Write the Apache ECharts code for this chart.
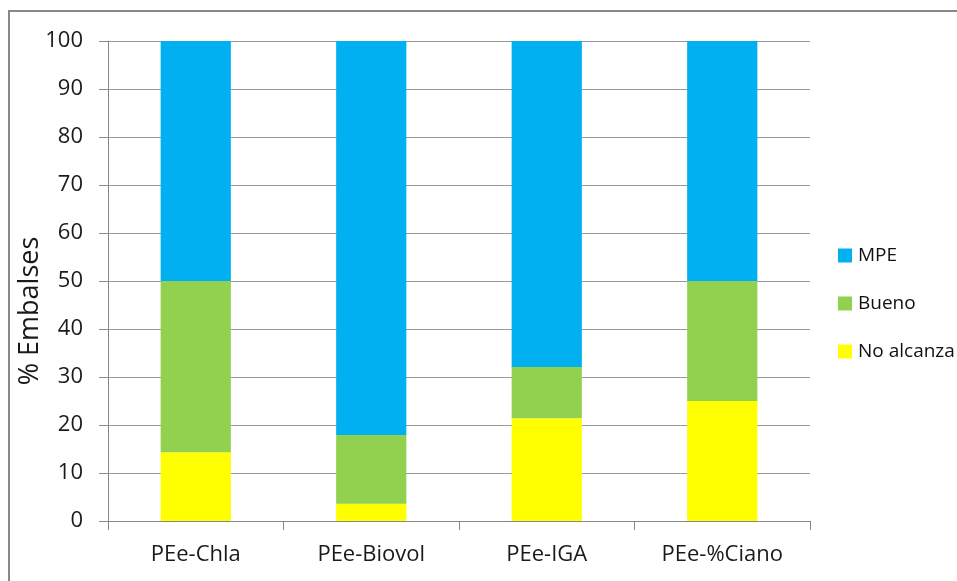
<!DOCTYPE html>
<html><head><meta charset="utf-8">
<script src="https://cdn.jsdelivr.net/npm/echarts@6/dist/echarts.min.js"></script>
<style>html,body{margin:0;padding:0;background:#fff}#c{width:957px;height:581px}</style>
</head><body><div id="c"></div>
<script>
const categories = ['PEe-Chla', 'PEe-Biovol', 'PEe-IGA', 'PEe-%Ciano'];
const noAlcanza = [14.3, 3.6, 21.4, 25.0];
const bueno = [35.7, 14.3, 10.7, 25.0];
const mpe = [50.0, 82.1, 67.9, 50.0];
const yTicks = [0, 10, 20, 30, 40, 50, 60, 70, 80, 90, 100];
const seriesNames = ['No alcanza', 'Bueno', 'MPE'];
const colors = ['#FFFF00', '#92D050', '#00B0F0'];

const font = 'Open Sans';
const chart = echarts.init(document.getElementById('c'));
const mk = (name, data, i) => ({
  name, type: 'bar', stack: 's', data, barWidth: '40%',
  itemStyle: { color: colors[i] }, emphasis: { disabled: true }
});
chart.setOption({
  animation: false,
  textStyle: { fontFamily: font },
  grid: { left: 108, right: 147, top: 41, bottom: 60, containLabel: false },
  legend: {
    data: ['MPE', 'Bueno', 'No alcanza'], orient: 'vertical', left: 838, top: 246,
    itemWidth: 14, itemHeight: 14, itemGap: 29, icon: 'rect', padding: 0,
    textStyle: { fontFamily: font, fontSize: 19, color: '#111', padding: [0, 0, 0, 1] }
  },
  xAxis: {
    type: 'category', data: categories,
    axisLine: { lineStyle: { color: '#888', width: 1 } },
    axisTick: { show: true, length: 9, lineStyle: { color: '#888' } },
    axisLabel: { fontSize: 22, color: '#1a1a1a', margin: 23, fontFamily: font }
  },
  yAxis: {
    type: 'value', min: yTicks[0], max: yTicks[yTicks.length - 1], interval: 10,
    axisLine: { show: true, lineStyle: { color: '#888' } },
    axisTick: { show: true, length: 9, lineStyle: { color: '#888' } },
    splitLine: { lineStyle: { color: '#999', width: 1 } },
    axisLabel: { fontSize: 22, color: '#1a1a1a', margin: 25, fontFamily: font }
  },
  series: [mk(seriesNames[0], noAlcanza, 0), mk(seriesNames[1], bueno, 1), mk(seriesNames[2], mpe, 2)],
  graphic: [
    { type: 'rect', shape: { x: 9, y: 11, width: 1000, height: 1000 }, style: { fill: 'none', stroke: '#888', lineWidth: 2 }, silent: true },
    { type: 'text', x: 30, y: 311, rotation: Math.PI / 2,
      style: { text: '% Embalses', font: '27px "Open Sans"', fill: '#1a1a1a', textAlign: 'center', textVerticalAlign: 'middle' } }
  ]
});
</script></body></html>
